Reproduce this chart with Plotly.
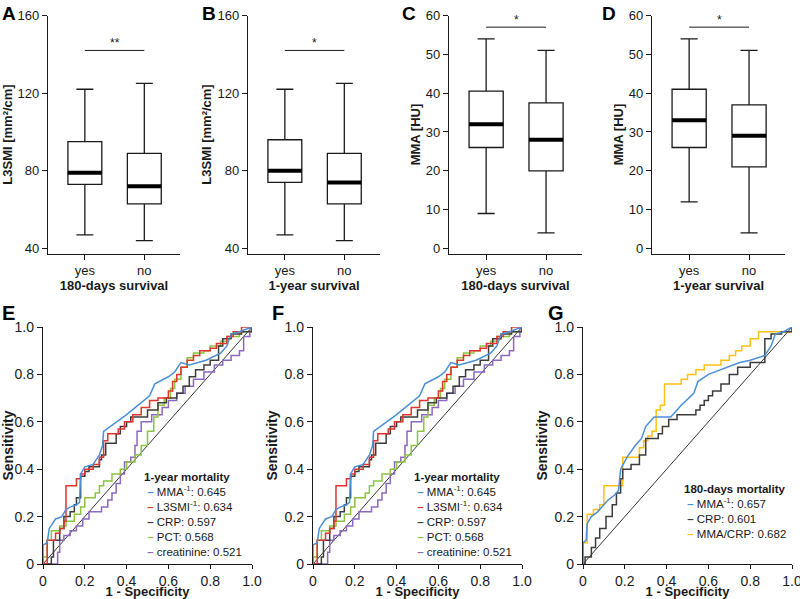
import plotly.graph_objects as go

W, H = 800, 599

# ---------------- Box-plot data (panels A-D) ----------------
groups = ["yes", "no"]
# [lowerfence, q1, median, q3, upperfence] per group
A_stats = {"yes": [47, 73, 79, 95, 122], "no": [44, 63, 72, 89, 125]}
B_stats = {"yes": [47, 74, 80, 96, 122], "no": [44, 63, 74, 89, 125]}
C_stats = {"yes": [9, 26, 32, 40.5, 54], "no": [4, 20, 28, 37.5, 51]}
D_stats = {"yes": [12, 26, 33, 41, 54], "no": [4, 21, 29, 37, 51]}
sig_levels = {"A": 142, "B": 142, "C": 57, "D": 57}
sig_text = {"A": "**", "B": "*", "C": "*", "D": "*"}
L3_ticks = [40, 80, 120, 160]
MMA_ticks = [0, 10, 20, 30, 40, 50, 60]

# ---------------- ROC data (panels E-G) ----------------
roc_ticks = [0, 0.2, 0.4, 0.6, 0.8, 1.0]
roc_ticklabels = ["0", "0.2", "0.4", "0.6", "0.8", "1.0"]
diag = [0, 1]

mma_1y_x = [0, 0, 0.02, 0.03, 0.06, 0.09, 0.11, 0.13, 0.16, 0.175, 0.18, 0.2, 0.24, 0.27, 0.285, 0.29,
            0.4, 0.51, 0.535, 0.6, 0.63, 0.66, 0.7, 0.78, 0.85, 0.88, 0.9, 0.94, 1.0]
mma_1y_y = [0, 0.08, 0.09, 0.15, 0.19, 0.2, 0.23, 0.24, 0.25, 0.26, 0.38, 0.41, 0.42, 0.46, 0.5, 0.56,
            0.63, 0.71, 0.76, 0.79, 0.81, 0.85, 0.84, 0.86, 0.89, 0.92, 0.97, 0.98, 1.0]
l3_1y_x = [0, 0.02, 0.06, 0.08, 0.1, 0.11, 0.16, 0.18, 0.2, 0.24, 0.27, 0.29, 0.31, 0.36, 0.39, 0.43, 0.47,
           0.51, 0.55, 0.6, 0.62, 0.64, 0.66, 0.69, 0.72, 0.75, 0.8, 0.83, 0.88, 0.91, 0.95, 1.0]
l3_1y_y = [0, 0.1, 0.13, 0.15, 0.18, 0.33, 0.36, 0.38, 0.4, 0.42, 0.45, 0.52, 0.55, 0.57, 0.6, 0.63, 0.66,
           0.69, 0.7, 0.73, 0.77, 0.8, 0.83, 0.86, 0.88, 0.9, 0.91, 0.93, 0.96, 0.98, 1.0, 1.0]
crp_1y_x = [0, 0.04, 0.05, 0.08, 0.1, 0.13, 0.15, 0.16, 0.18, 0.2, 0.22, 0.27, 0.28, 0.3, 0.35, 0.37, 0.4,
            0.42, 0.5, 0.55, 0.59, 0.64, 0.67, 0.7, 0.73, 0.77, 0.8, 0.84, 0.86, 0.9, 0.95, 1.0]
crp_1y_y = [0, 0.03, 0.1, 0.15, 0.2, 0.22, 0.25, 0.28, 0.37, 0.39, 0.41, 0.44, 0.46, 0.51, 0.55, 0.58, 0.6,
            0.62, 0.65, 0.68, 0.7, 0.72, 0.75, 0.79, 0.82, 0.84, 0.86, 0.92, 0.95, 0.97, 0.98, 1.0]
pct_1y_x = [0, 0, 0.02, 0.04, 0.08, 0.11, 0.15, 0.18, 0.2, 0.25, 0.27, 0.29, 0.33, 0.37, 0.4, 0.44, 0.47,
            0.5, 0.53, 0.55, 0.58, 0.61, 0.63, 0.66, 0.69, 0.72, 0.77, 0.8, 0.85, 0.88, 0.94, 1.0]
pct_1y_y = [0, 0.03, 0.1, 0.14, 0.16, 0.18, 0.21, 0.24, 0.28, 0.3, 0.33, 0.35, 0.38, 0.4, 0.43, 0.46, 0.5,
            0.56, 0.62, 0.67, 0.7, 0.74, 0.78, 0.83, 0.87, 0.89, 0.9, 0.92, 0.94, 0.96, 0.98, 1.0]
crea_1y_x = [0, 0.065, 0.07, 0.08, 0.1, 0.13, 0.16, 0.19, 0.22, 0.28, 0.31, 0.33, 0.35, 0.37, 0.39, 0.42,
             0.44, 0.45, 0.47, 0.52, 0.57, 0.6, 0.64, 0.68, 0.72, 0.77, 0.82, 0.86, 0.9, 0.94, 0.96, 0.99, 1.0]
crea_1y_y = [0, 0, 0.05, 0.1, 0.12, 0.14, 0.16, 0.19, 0.22, 0.24, 0.27, 0.3, 0.34, 0.38, 0.43, 0.45,
             0.5, 0.56, 0.6, 0.63, 0.66, 0.69, 0.72, 0.75, 0.78, 0.81, 0.84, 0.86, 0.88, 0.9, 0.96, 1.0, 1.0]

mma_180_x = [0, 0, 0.015, 0.02, 0.04, 0.07, 0.09, 0.12, 0.15, 0.17, 0.18, 0.21, 0.25, 0.28, 0.3, 0.34,
             0.42, 0.47, 0.53, 0.55, 0.6, 0.66, 0.7, 0.75, 0.8, 0.87, 0.9, 0.92, 0.96, 1.0]
mma_180_y = [0, 0.09, 0.1, 0.17, 0.2, 0.22, 0.24, 0.27, 0.29, 0.31, 0.4, 0.45, 0.5, 0.53, 0.58, 0.62,
             0.62, 0.67, 0.72, 0.77, 0.8, 0.82, 0.83, 0.85, 0.86, 0.88, 0.92, 0.97, 0.98, 1.0]
crp_180_x = [0, 0.01, 0.04, 0.06, 0.08, 0.11, 0.14, 0.16, 0.18, 0.19, 0.23, 0.27, 0.3, 0.36, 0.38, 0.41,
             0.45, 0.54, 0.56, 0.58, 0.6, 0.62, 0.66, 0.7, 0.74, 0.8, 0.87, 0.9, 0.95, 1.0]
crp_180_y = [0, 0.03, 0.07, 0.11, 0.15, 0.2, 0.25, 0.3, 0.36, 0.4, 0.42, 0.46, 0.53, 0.55, 0.58, 0.61,
             0.63, 0.65, 0.67, 0.69, 0.71, 0.73, 0.76, 0.8, 0.83, 0.85, 0.95, 0.97, 0.98, 1.0]
ratio_180_x = [0, 0, 0.02, 0.05, 0.08, 0.1, 0.19, 0.27, 0.29, 0.31, 0.33, 0.35, 0.37, 0.39, 0.47, 0.5,
               0.54, 0.58, 0.66, 0.7, 0.73, 0.76, 0.8, 0.84, 1.0]
ratio_180_y = [0, 0.09, 0.21, 0.23, 0.25, 0.33, 0.45, 0.49, 0.52, 0.54, 0.56, 0.65, 0.67, 0.76, 0.78, 0.8,
               0.82, 0.84, 0.86, 0.88, 0.9, 0.92, 0.95, 0.98, 1.0]

names_1y = ["MMA<sup>-1</sup>", "L3SMI<sup>-1</sup>", "CRP", "PCT", "creatinine"]
auc_1y = ["0.645", "0.634", "0.597", "0.568", "0.521"]
names_180 = ["MMA<sup>-1</sup>", "CRP", "MMA/CRP"]
auc_180 = ["0.657", "0.601", "0.682"]

C_BLUE, C_RED, C_BLACK, C_GREEN, C_PURPLE, C_YELLOW = "#4a8fd8", "#e0342c", "#3c3c3c", "#8cc43f", "#8c68c0", "#ffc010"
colors_1y = [C_BLUE, C_RED, C_BLACK, C_GREEN, C_PURPLE]
colors_180 = [C_BLUE, C_BLACK, C_YELLOW]

# ---------------- layout helpers ----------------
FONT = "Arial, Liberation Sans, Helvetica, sans-serif"
TXT = "#1a1a1a"


def px_x(p):
    return p / W


def px_y(p):
    return 1 - p / H


fig = go.Figure()
layout = dict(width=W, height=H, margin=dict(l=0, r=0, t=0, b=0), paper_bgcolor="white",
              plot_bgcolor="white", showlegend=False, font=dict(family=FONT, color=TXT))
annotations = []

axis_common = dict(showline=True, linecolor=TXT, linewidth=1.3, ticks="outside", ticklen=5, tickwidth=1.3,
                   tickcolor=TXT, showgrid=False, zeroline=False, automargin=False, fixedrange=True,
                   ticklabeloverflow="allow")

# -------- top box panels --------
top_panels = [
    ("A", A_stats, 48, 180, [37.4, 160], L3_ticks, "L3SMI [mm²/cm]", "180-days survival"),
    ("B", B_stats, 248, 380, [37.4, 160], L3_ticks, "L3SMI [mm²/cm]", "1-year survival"),
    ("C", C_stats, 449, 582, [-1.3, 60], MMA_ticks, "MMA [HU]", "180-days survival"),
    ("D", D_stats, 652, 785, [-1.3, 60], MMA_ticks, "MMA [HU]", "1-year survival"),
]
box_w = 0.57
letter_x = {"A": 0, "B": 200, "C": 400, "D": 600}
for i, (lab, stats, x0, x1, yr, yt, ytitle, xtitle) in enumerate(top_panels):
    n = i + 1
    xa = "x" if n == 1 else f"x{n}"
    ya = "y" if n == 1 else f"y{n}"
    for gi, g in enumerate(groups):
        lf, q1, med, q3, uf = stats[g]
        fig.add_trace(go.Box(x=[gi], q1=[q1], median=[med], q3=[q3], lowerfence=[lf], upperfence=[uf],
                             width=box_w, whiskerwidth=0.5, fillcolor="white",
                             line=dict(color=TXT, width=1.3), boxpoints=False,
                             xaxis=xa, yaxis=ya, hoverinfo="skip"))
        fig.add_trace(go.Scatter(x=[gi - box_w / 2, gi + box_w / 2], y=[med, med], mode="lines",
                                 line=dict(color="black", width=4), xaxis=xa, yaxis=ya, hoverinfo="skip"))
    # significance bar
    fig.add_trace(go.Scatter(x=[0, 1], y=[sig_levels[lab]] * 2, mode="lines",
                             line=dict(color=TXT, width=1), xaxis=xa, yaxis=ya, hoverinfo="skip"))
    annotations.append(dict(x=0.5, y=sig_levels[lab], xref=xa, yref=ya, text=sig_text[lab], showarrow=False,
                            yanchor="bottom", yshift=-2, font=dict(size=12, color=TXT)))
    layout["xaxis" if n == 1 else f"xaxis{n}"] = dict(
        axis_common, domain=[px_x(x0), px_x(x1)], range=[-0.62, 1.6], tickvals=[0, 1], ticktext=groups,
        anchor=ya, tickfont=dict(size=13, color=TXT),
        title=dict(text=f"<b>{xtitle}</b>", font=dict(size=13, color=TXT), standoff=2))
    layout["yaxis" if n == 1 else f"yaxis{n}"] = dict(
        axis_common, domain=[px_y(253.5), px_y(15.5)], range=yr, tickvals=yt, anchor=xa,
        tickfont=dict(size=13, color=TXT),
        title=dict(text=f"<b>{ytitle}</b>", font=dict(size=13, color=TXT), standoff=2))
    annotations.append(dict(x=px_x(letter_x[lab]), y=px_y(1), xref="paper", yref="paper", text=f"<b>{lab}</b>",
                            showarrow=False, xanchor="left", yanchor="top", font=dict(size=19, color="black")))

# -------- ROC panels --------
roc_panels = [
    ("E", 43, 252, 0, [(mma_1y_x, mma_1y_y, "linear"), (l3_1y_x, l3_1y_y, "hv"), (crp_1y_x, crp_1y_y, "hv"),
                       (pct_1y_x, pct_1y_y, "hv"), (crea_1y_x, crea_1y_y, "hv")],
     colors_1y, "1-year mortality", names_1y, auc_1y, 142, 469),
    ("F", 313, 522, 270, [(mma_1y_x, mma_1y_y, "linear"), (l3_1y_x, l3_1y_y, "hv"), (crp_1y_x, crp_1y_y, "hv"),
                          (pct_1y_x, pct_1y_y, "hv"), (crea_1y_x, crea_1y_y, "hv")],
     colors_1y, "1-year mortality", names_1y, auc_1y, 412, 469),
    ("G", 583, 792, 546, [(mma_180_x, mma_180_y, "linear"), (crp_180_x, crp_180_y, "hv"),
                          (ratio_180_x, ratio_180_y, "hv")],
     colors_180, "180-days mortality", names_180, auc_180, 682, 481),
]
for j, (lab, x0, x1, lx, curves, cols, ltitle, lnames, laucs, legx, legy) in enumerate(roc_panels):
    n = 5 + j
    xa, ya = f"x{n}", f"y{n}"
    fig.add_trace(go.Scatter(x=diag, y=diag, mode="lines", line=dict(color="black", width=0.8),
                             xaxis=xa, yaxis=ya, hoverinfo="skip", cliponaxis=False))
    # draw in reverse so that first series sits on top
    for (cx, cy, shape), col in reversed(list(zip(curves, cols))):
        fig.add_trace(go.Scatter(x=cx, y=cy, mode="lines", line=dict(color=col, width=1.5, shape=shape),
                                 xaxis=xa, yaxis=ya, hoverinfo="skip"))
    layout[f"xaxis{n}"] = dict(
        axis_common, domain=[px_x(x0), px_x(x1)], range=[0, 1], tickvals=roc_ticks, ticktext=roc_ticklabels,
        anchor=ya, tickfont=dict(size=14, color=TXT), ticklen=4,
        title=dict(text="<b>1 - Specificity</b>", font=dict(size=13, color=TXT), standoff=5))
    layout[f"yaxis{n}"] = dict(
        axis_common, domain=[px_y(564), px_y(327)], range=[0, 1], tickvals=roc_ticks, ticktext=roc_ticklabels,
        anchor=xa, tickfont=dict(size=14, color=TXT),
        title=dict(text="<b>Sensitivity</b>", font=dict(size=14, color=TXT), standoff=3))
    lines = [f"<b>{ltitle}</b>"]
    for nm, auc, col in zip(lnames, laucs, cols):
        lines.append(f" <span style='color:{col}'><b>–</b></span> {nm}: {auc}")
    annotations.append(dict(x=px_x(legx), y=px_y(legy), xref="paper", yref="paper", text="<br>".join(lines),
                            align="left", showarrow=False, xanchor="left", yanchor="top",
                            font=dict(size=11.5, color=TXT)))
    annotations.append(dict(x=px_x(lx), y=px_y(300), xref="paper", yref="paper", text=f"<b>{lab}</b>",
                            showarrow=False, xanchor="left", yanchor="top", font=dict(size=20, color="black")))

layout["annotations"] = annotations
fig.update_layout(**layout)
fig.write_html("out.html", config={"displayModeBar": False},
               post_script="document.body.style.margin='0';document.body.style.overflow='hidden';")
